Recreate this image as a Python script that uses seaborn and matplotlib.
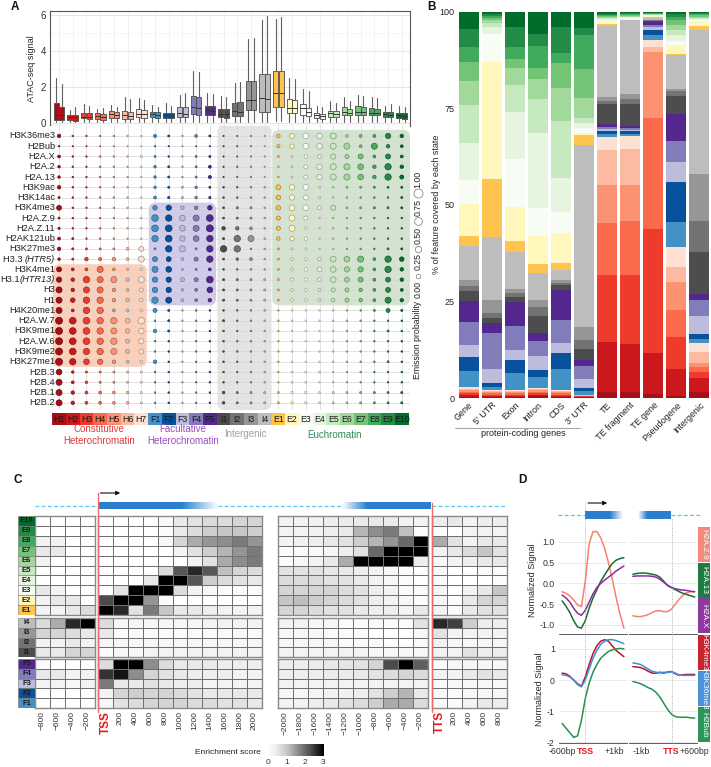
import numpy as np
import matplotlib
matplotlib.use("Agg")
import matplotlib.pyplot as plt
import seaborn as sns
from matplotlib.patches import FancyBboxPatch, Rectangle
from matplotlib.colors import to_rgb

sns.set_theme(style="white")
plt.rcParams["font.family"] = ["Liberation Sans", "DejaVu Sans"]
plt.rcParams["font.size"] = 7
plt.rcParams["axes.unicode_minus"] = False

# ---------------- data ----------------
states = ["H1", "H2", "H3", "H4", "H5", "H6", "H7", "F1", "F2", "F3", "F4", "F5",
          "I1", "I2", "I3", "I4", "E1", "E2", "E3", "E4", "E5", "E6", "E7", "E8", "E9", "E10"]
state_colors = ["#a50f15", "#cb181d", "#ef3b2c", "#fb6a4a", "#fc9272", "#fcbba1", "#fee0d2",
                "#4292c6", "#08519c", "#bcbddc", "#807dba", "#54278f",
                "#4d4d4d", "#737373", "#969696", "#bdbdbd",
                "#fec44f", "#fff7bc", "#f7fcf5", "#e5f5e0", "#c7e9c0", "#a1d99b", "#74c476",
                "#41ab5d", "#238b45", "#006d2c"]

# panel A boxplots (two replicates per state)
q1_a = [.17, .17, .26, .22, .28, .20, .31, .31, .28, .35, .50, .44, .31, .39, .72, .63, .90, .54, .44, .26, .35, .44, .44, .44, .35, .26]
med_a = [.44, .35, .35, .39, .48, .44, .50, .50, .44, .54, .90, .72, .50, .67, 1.28, 1.37, 1.65, .85, .81, .44, .54, .63, .63, .57, .50, .44]
q3_a = [1.13, .44, .57, .54, .67, .69, .76, .61, .57, .87, 1.50, .94, .76, 1.13, 2.31, 2.72, 2.89, 1.33, 1.06, .54, .69, .87, .94, .85, .63, .57]
hi_a = [2.48, .72, 1.04, .80, 1.00, 1.46, 1.37, 1.00, 1.13, 1.56, 2.89, 1.69, 1.50, 2.24, 4.67, 5.72, 5.76, 2.48, 1.87, .94, 1.22, 1.46, 1.56, 1.46, .94, .94]
q1_b = [.17, .13, .20, .17, .26, .20, .30, .30, .27, .35, .44, .42, .30, .40, .70, .60, .87, .54, .40, .24, .35, .43, .44, .42, .33, .24]
med_b = [.42, .31, .35, .33, .42, .40, .48, .46, .40, .52, .81, .67, .48, .63, 1.30, 1.31, 1.65, .83, .63, .40, .50, .58, .60, .55, .46, .41]
q3_b = [.90, .44, .54, .48, .60, .63, .72, .60, .54, .90, 1.43, .92, .76, 1.17, 2.35, 2.72, 2.89, 1.28, .85, .52, .67, .78, .87, .80, .60, .55]
hi_b = [2.17, .87, .94, .85, .91, 1.31, 1.28, .91, .94, 1.65, 2.85, 1.61, 1.46, 2.30, 4.74, 5.94, 5.87, 2.43, 1.80, .87, 1.09, 1.24, 1.50, 1.37, 1.06, .87]
lo_all = [.05, .04, .06, .05, .06, .05, .06, .06, .05, .06, .08, .07, .05, .06, .08, .07, .09, .07, .06, .05, .06, .06, .06, .06, .05, .05]

# row labels; (prefix, italic suffix)
marks = [("H3K36me3", ""), ("H2Bub", ""), ("H2A.X", ""), ("H2A.2", ""), ("H2A.13", ""), ("H3K9ac", ""),
         ("H3K14ac", ""), ("H3K4me3", ""), ("H2A.Z.9", ""), ("H2A.Z.11", ""), ("H2AK121ub", ""),
         ("H3K27me3", ""), ("H3.3 ", "(HTR5)"), ("H3K4me1", ""), ("H3.1", "(HTR13)"), ("H3", ""), ("H1", ""),
         ("H4K20me1", ""), ("H2A.W.7", ""), ("H3K9me1", ""), ("H2A.W.6", ""), ("H3K9me2", ""),
         ("H3K27me1", ""), ("H2B.3", ""), ("H2B.4", ""), ("H2B.1", ""), ("H2B.2", "")]
emission = [
    [.15, .03, .03, .03, .03, .03, .03, .12, .05, .03, .10, .05, .02, .02, .02, .02, .15, .30, .40, .40, .45, .10, .10, .10, .35, .15],
    [.03, .02, .02, .02, .02, .02, .02, .03, .02, .02, .02, .02, .02, .02, .02, .02, .12, .25, .40, .40, .45, .45, .10, .45, .15, .10],
    [.10, .03, .03, .03, .03, .03, .05, .05, .03, .03, .05, .05, .02, .02, .02, .02, .05, .05, .15, .20, .35, .20, .30, .10, .30, .10],
    [.08, .03, .03, .03, .03, .03, .03, .08, .05, .03, .05, .10, .02, .02, .02, .02, .03, .05, .20, .35, .45, .45, .40, .15, .50, .15],
    [.08, .03, .03, .03, .03, .03, .03, .08, .05, .03, .05, .12, .02, .02, .02, .02, .03, .05, .20, .35, .45, .45, .40, .15, .50, .20],
    [.15, .03, .03, .03, .03, .03, .03, .08, .05, .05, .08, .05, .03, .03, .03, .03, .30, .35, .40, .05, .03, .05, .05, .05, .05, .05],
    [.05, .03, .03, .03, .03, .03, .03, .10, .06, .05, .08, .06, .03, .03, .03, .03, .25, .35, .30, .05, .03, .03, .03, .03, .03, .05],
    [.30, .03, .03, .03, .03, .03, .03, .25, .35, .15, .15, .25, .04, .05, .05, .03, .25, .40, .40, .20, .30, .05, .05, .05, .05, .05],
    [.05, .03, .03, .03, .03, .03, .03, .55, .50, .40, .45, .55, .04, .05, .05, .03, .20, .45, .20, .03, .03, .03, .03, .03, .03, .03],
    [.06, .03, .03, .03, .03, .03, .03, .55, .55, .40, .45, .60, .15, .15, .10, .03, .20, .45, .10, .03, .03, .03, .03, .03, .03, .03],
    [.10, .05, .03, .03, .03, .03, .03, .50, .55, .35, .40, .50, .05, .50, .45, .03, .15, .25, .15, .03, .03, .03, .03, .03, .03, .03],
    [.15, .05, .05, .05, .05, .10, .30, .05, .50, .45, .05, .50, .50, .50, .03, .03, .05, .05, .05, .03, .03, .03, .03, .03, .05, .05],
    [.08, .05, .15, .12, .15, .10, .45, .30, .30, .10, .20, .50, .04, .08, .10, .03, .05, .10, .10, .15, .40, .40, .45, .10, .50, .25],
    [.30, .10, .10, .45, .10, .05, .10, .45, .40, .05, .05, .10, .03, .03, .03, .03, .05, .10, .15, .30, .40, .35, .35, .10, .50, .15],
    [.35, .15, .50, .45, .45, .15, .45, .35, .35, .20, .20, .55, .05, .05, .05, .05, .05, .15, .15, .20, .40, .30, .30, .10, .30, .15],
    [.45, .15, .45, .45, .15, .10, .20, .35, .35, .08, .10, .40, .05, .05, .05, .05, .05, .10, .10, .10, .20, .20, .15, .10, .30, .10],
    [.45, .25, .50, .50, .15, .15, .15, .50, .45, .10, .10, .15, .05, .05, .05, .05, .05, .10, .10, .10, .15, .20, .15, .10, .45, .15],
    [.45, .10, .50, .50, .10, .10, .10, .20, .05, .03, .03, .03, .03, .03, .03, .03, .03, .03, .03, .03, .03, .03, .03, .05, .20, .05],
    [.60, .55, .55, .50, .50, .30, .55, .03, .05, .03, .03, .03, .05, .03, .03, .03, .03, .03, .03, .03, .03, .03, .03, .03, .03, .03],
    [.60, .55, .55, .50, .45, .25, .40, .15, .05, .03, .03, .03, .03, .03, .03, .03, .03, .03, .03, .03, .03, .03, .03, .03, .05, .03],
    [.60, .55, .55, .50, .50, .20, .35, .03, .03, .03, .03, .03, .03, .03, .03, .03, .03, .03, .03, .03, .03, .03, .03, .03, .03, .03],
    [.60, .55, .50, .50, .45, .20, .30, .03, .03, .03, .03, .03, .03, .03, .03, .03, .03, .03, .03, .03, .03, .03, .03, .03, .03, .03],
    [.60, .50, .40, .35, .15, .10, .10, .15, .03, .03, .03, .03, .03, .03, .03, .03, .03, .03, .03, .03, .03, .03, .03, .03, .05, .03],
    [.40, .08, .05, .05, .05, .05, .05, .03, .03, .03, .03, .03, .03, .03, .03, .03, .03, .05, .05, .05, .03, .03, .03, .03, .03, .03],
    [.45, .10, .08, .05, .05, .05, .05, .03, .03, .03, .03, .03, .03, .03, .03, .03, .03, .05, .05, .03, .03, .03, .03, .03, .03, .03],
    [.45, .15, .10, .10, .10, .08, .05, .03, .03, .03, .03, .03, .08, .05, .05, .05, .05, .08, .08, .05, .05, .05, .05, .05, .05, .05],
    [.45, .15, .10, .10, .10, .10, .05, .03, .03, .03, .03, .03, .08, .05, .05, .05, .05, .08, .08, .05, .05, .05, .05, .05, .05, .05],
]
legend_probs = [0.00, 0.25, 0.50, 0.75, 1.00]

# panel B: % of feature covered by each state (H1..E10 bottom to top)
features = ["Gene", "5' UTR", "Exon", "Intron", "CDS", "3' UTR", "TE", "TE fragment", "TE gene", "Pseudogene", "Intergenic"]
b_gene = [.3, .5, .4, .4, .4, .4, .5, 4.3, 3.5, 3.2, 6.0, 5.5, 2.6, 1.3, 1.5, 9.0, 2.6, 8.3, 6.5, 9.5, 10.0, 6.2, 5.2, 3.9, 4.7, 4.4]
b_utr5 = [.3, .3, .3, .3, .3, .3, .2, 1.0, 1.0, 3.6, 9.7, 2.6, 1.3, 1.3, 3.6, 16.6, 15.5, 31.0, 7.5, 2.0, 1.0, .8, .5, .5, .5, .6]
b_exon = [.3, .3, .3, .3, .3, .3, .2, 4.5, 3.4, 2.6, 6.2, 6.3, 1.3, 1.0, 1.1, 9.5, 2.8, 8.8, 12.7, 12.0, 7.2, 4.4, 2.3, 3.1, 5.2, 3.9]
b_intron = [.4, .4, .4, .4, .4, .3, .3, 2.8, 1.8, 3.6, 4.1, 1.9, 4.5, 2.2, 1.9, 7.0, 2.4, 7.3, 7.2, 19.4, 8.8, 5.4, 2.8, 5.7, 3.1, 5.7]
b_cds = [.3, .3, .3, .3, .3, .3, .4, 5.3, 4.1, 2.6, 6.2, 7.6, 1.3, .6, .7, 2.8, 1.6, 7.8, 5.5, 9.0, 14.7, 8.5, 6.7, 2.6, 6.7, 3.9]
b_utr3 = [.2, .1, .1, .1, .1, .1, .2, .9, .9, 2.3, 3.3, 1.6, 2.8, 2.4, 3.5, 47.6, 2.6, .5, 1.3, 1.3, 1.3, 5.2, 7.8, 8.8, 1.9, 4.1]
b_te = [1.7, 13.2, 18.0, 14.0, 10.0, 9.3, 3.6, .8, .8, .5, .5, .8, 5.4, .9, 1.0, 19.0, .5, .4, .5, .3, .3, .3, .3, .3, .3, .5]
b_tefrag = [1.5, 12.8, 18.0, 14.2, 9.3, 9.6, 3.4, .6, .6, .4, .4, .6, 5.7, 1.3, 1.3, 19.4, .2, .2, .2, .2, .2, .2, .2, .2, .2, .4]
b_tegene = [1.1, 10.6, 32.6, 29.0, 17.3, 1.3, 2.0, 1.3, 1.3, .8, .5, .8, .3, .2, .1, .4, .3, .2, .2, .1, .1, .1, .1, .1, .1, .3]
b_pseudo = [.5, 7.0, 8.5, 7.0, 7.5, 3.9, 5.2, 6.5, 10.4, 5.4, 5.4, 7.0, 4.7, 1.3, .5, 9.0, .4, 2.3, 1.0, 1.6, 1.3, 1.3, 1.3, .8, .8, .5]
b_inter = [1.6, 3.6, 1.7, 1.3, .9, 3.0, 2.2, 1.0, 1.4, 4.6, 4.4, 1.5, 11.0, 8.0, 12.4, 37.5, 1.0, 1.3, .3, .3, .3, .3, .3, .3, .3, .3]

# panel C: enrichment scores, rows E10..E1, I4..I1, F5..F1
c_rows = ["E10", "E9", "E8", "E7", "E6", "E5", "E4", "E3", "E2", "E1", "I4", "I3", "I2", "I1", "F5", "F4", "F3", "F2", "F1"]
c_row_colors = ["#006d2c", "#238b45", "#41ab5d", "#74c476", "#a1d99b", "#c7e9c0", "#e5f5e0", "#f7fcf5", "#fff7bc", "#fec44f",
                "#bdbdbd", "#969696", "#737373", "#4d4d4d", "#54278f", "#807dba", "#bcbddc", "#08519c", "#4292c6"]
up_labels = ["\u2212800", "\u2212600", "\u2212400", "\u2212200"]
tss_labels = ["TSS", "200", "400", "600", "800", "1000", "1200", "1400", "1600", "1800", "2000"]
ttsup_labels = ["\u22122000", "\u22121800", "\u22121600", "\u22121400", "\u22121200", "\u22121000", "\u2212800", "\u2212600", "\u2212400", "\u2212200"]
ttsdn_labels = ["TTS", "200", "400", "600", "800"]
c_up = [[0, 0, 0, 0], [0, 0, 0, 0], [.3, .3, 0, 0], [.5, .5, 0, 0], [.3, 0, 0, 0], [0, 0, 0, 0], [0, 0, 0, 0],
        [.5, .3, 0, 0], [.3, .5, .5, 0], [.3, .3, .5, .7],
        [.7, 1.3, 2.6, 3.0], [.8, .8, .7, .5], [.3, .3, .5, .3], [.5, .5, .8, .8],
        [.1, 0, 0, 0], [.5, .5, .3, .3], [.3, .3, .2, .3], [0, 0, 0, 0], [0, 0, 0, 0]]
c_tss = [[0, 0, 0, 0, .15, .5, .6, .7, .7, .8, .8],
         [0, 0, 0, 0, .1, .5, .7, .9, 1.0, 1.0, .9],
         [0, 0, 0, 0, .2, .8, 1.3, 1.5, 1.6, 1.8, 1.5],
         [0, 0, 0, 0, 0, .3, .6, .9, 1.2, 1.5, 1.8],
         [0, 0, 0, 0, 0, 0, .3, .6, 1.3, 1.6, 1.8],
         [0, 0, 0, 0, .7, 2.2, 2.6, 2.2, 1.1, .8, .7],
         [0, 0, 0, .5, 3.0, 3.0, 2.2, .9, .7, .6, .5],
         [0, .6, 3.0, 3.0, 3.0, .7, .3, .2, .1, .1, .1],
         [2.3, 3.0, 3.0, 1.5, .1, 0, 0, 0, 0, 0, 0],
         [3.0, 2.6, .6, 1.8, 1.0, .5, .5, .4, .3, .3, .3],
         [.7, .2, .2, .2, .2, .2, .2, .3, .3, .3, .3],
         [.5, .1, .1, .1, .1, .1, .1, .1, .1, .1, .1],
         [.2, .2, .2, .2, .2, .2, .2, .2, .2, .2, .2],
         [.1, .2, .2, .3, .3, .3, .3, .3, .3, .3, .3],
         [.7, 3.0, 3.0, 1.6, .7, .5, .5, .5, .4, .4, .4],
         [2.5, 2.8, 1.6, .8, .6, .5, .4, .4, .4, .3, .3],
         [1.8, .5, .5, .6, .5, .4, .4, .3, .3, .3, .3],
         [.3, .8, .9, .8, .8, .7, .6, .5, .5, .5, .5],
         [.2, .6, .7, .8, .8, .8, .7, .7, .6, .6, .5]]
c_ttsup = [[.3, .3, .35, .4, .45, .5, .5, .45, .3, .3],
           [.3, .3, .35, .4, .5, 1.2, 1.6, 1.8, 1.1, .1],
           [.3, .35, .4, .5, .6, .9, 1.2, 1.5, 2.0, 3.0],
           [.1, .1, .15, .2, .4, .6, 2.0, 3.0, 3.0, 3.0],
           [.1, .2, .3, .5, 1.3, 3.0, 3.0, 3.0, 3.0, .4],
           [.6, .6, .6, .55, .5, .4, .3, .2, .1, 0],
           [.7, .7, .7, .6, .6, .5, .3, .2, .1, 0],
           [.8, .8, .8, .8, .7, .6, .4, .3, .1, .1],
           [1.0, 1.1, .9, .8, .7, .6, .4, .3, .2, .1],
           [.8, .8, .7, .6, .6, .5, .4, .4, .3, .5],
           [.3, .3, .2, .2, .1, .1, .1, .1, .1, .6],
           [.2, .2, .2, .1, .1, .1, 0, 0, 0, .2],
           [.2, .2, .2, .2, .1, .1, .1, 0, 0, .1],
           [.3, .3, .3, .3, .3, .3, .2, .2, .2, .2],
           [.4, .4, .45, .5, .55, .6, .8, 2.3, 3.0, 2.1],
           [.4, .4, .4, .45, .45, .5, .6, .7, .8, .7],
           [.3, .3, .3, .3, .3, .3, .3, .3, .3, .3],
           [.2, .2, .25, .3, .35, .4, .6, .9, 1.2, .5],
           [.3, .3, .4, .5, .6, .7, .9, 1.3, 1.3, .7]]
c_ttsdn = [[.4, .5, .3, .4, .4], [0, 0, .3, .3, .3], [1.3, .6, .3, .5, .5], [.3, .5, .7, 1.0, .6],
           [.1, .3, .4, .5, .5], [.1, 0, 0, .1, .1], [.1, 0, 0, 0, .1], [.2, 0, .3, .5, 1.0],
           [.2, .1, .5, .8, .8], [.3, .1, .5, .6, .6],
           [2.6, 2.4, .9, .4, .4], [.6, .3, .3, .3, .3], [.3, .2, .2, .2, .2], [.3, .3, .6, .4, .4],
           [0, .2, .2, .2, .2], [.3, .3, .5, .6, .5], [.1, .2, .2, .2, .2], [.1, .1, .2, .2, .2], [.1, .1, .3, .5, .4]]

# panel D: metaprofiles
d_tss_x = [-600, -500, -400, -300, -200, -100, 0, 100, 200, 300, 400, 500, 600, 700, 800, 900, 1000]
d_tts_x = [-1000, -900, -800, -700, -600, -500, -400, -300, -200, -100, 0, 100, 200, 300, 400, 500, 600]
top_marks = ["H2A.Z.9", "H2A.13", "H2A.X"]
top_colors = ["#f8806f", "#1b6b35", "#8b2aa0"]
top_strip = ["#f4897b", "#1f7a43", "#8e3a9d"]
top_tss = [[-.20, -.24, -.30, -.40, -.52, -.56, .05, .95, 1.25, 1.25, 1.10, .85, .50, .10, -.35, -.75, -1.08],
           [-.42, -.55, -.70, -.90, -1.05, -1.08, -.90, -.60, -.35, -.15, .05, .20, .35, .48, .56, .60, .62],
           [-.28, -.35, -.45, -.60, -.72, -.77, -.65, -.45, -.25, -.10, .00, .08, .15, .22, .30, .36, .42]]
top_tts = [[-.78, -.80, -.80, -.78, -.75, -.70, -.66, -.66, -.68, -.68, -.62, -.50, -.38, -.28, -.22, -.20, -.20],
           [.22, .24, .25, .25, .24, .22, .20, .15, .05, -.05, -.10, -.15, -.20, -.24, -.27, -.30, -.33],
           [.17, .18, .18, .18, .18, .17, .15, .10, .03, -.05, -.10, -.13, -.15, -.16, -.17, -.19, -.20]]
bot_marks = ["H3K4me3", "H3K36me3", "H2Bub"]
bot_colors = ["#c0141f", "#3d8fdc", "#249150"]
bot_strip = ["#c4262e", "#4a93d8", "#2c9558"]
bot_tss = [[.22, .20, .12, .00, -.12, -.20, .10, .50, .85, 1.10, 1.25, 1.30, 1.25, 1.10, .95, .85, .75],
           [.17, .15, .10, .00, -.15, -.22, .00, .35, .70, .95, 1.15, 1.25, 1.30, 1.30, 1.27, 1.22, 1.17],
           [-1.40, -1.55, -1.70, -1.85, -1.80, -1.30, -.60, -.10, .25, .50, .70, .82, .92, .97, 1.00, 1.02, 1.00]]
bot_tts = [[.43, .42, .40, .35, .28, .22, .22, .25, .22, .26, .27, .20, .15, .17, .18, .18, .18],
           [.55, .53, .50, .43, .35, .28, .25, .23, .25, .24, .27, .22, .16, .15, .15, .15, .15],
           [-.05, -.08, -.12, -.18, -.25, -.30, -.40, -.55, -.75, -.95, -1.10, -1.18, -1.20, -1.20, -1.20, -1.22, -1.23]]

# ---------------- figure ----------------
W, H = 711, 767
fig = plt.figure(figsize=(W / 100, H / 100), dpi=100)
fig.patch.set_facecolor("white")


def add_ax(x0, y0, x1, y1):
    return fig.add_axes([x0 / W, 1 - y1 / H, (x1 - x0) / W, (y1 - y0) / H])


def ftext(x, y, s, **kw):
    fig.text(x / W, 1 - y / H, s, **kw)


def darker(c, f=0.65):
    r, g, b = to_rgb(c)
    return (r * f, g * f, b * f)


# ---- A: boxplot ----
axb = add_ax(50, 11, 410, 126)
stats, pos, bcols = [], [], []
for j in range(26):
    for k, (a, m, b, h) in enumerate([(q1_a[j], med_a[j], q3_a[j], hi_a[j]), (q1_b[j], med_b[j], q3_b[j], hi_b[j])]):
        stats.append(dict(q1=a, med=m, q3=b, whislo=lo_all[j], whishi=h, fliers=[]))
        pos.append(j - 0.2 + 0.4 * k)
        bcols.append(state_colors[j])
bp = axb.bxp(stats, positions=pos, widths=0.38, patch_artist=True, showfliers=False, showcaps=False,
             boxprops=dict(edgecolor="#4a4a4a", linewidth=0.6),
             medianprops=dict(color="#333333", linewidth=0.7),
             whiskerprops=dict(color="#606060", linewidth=0.8))
for p, c in zip(bp["boxes"], bcols):
    p.set_facecolor(c)
for j in range(26):
    axb.axvline(j, color="#ededed", lw=0.5, zorder=0)
axb.set_xlim(-0.66, 25.6)
axb.set_ylim(-0.17, 6.22)
axb.set_xticks([])
axb.set_yticks([0, 2, 4, 6])
axb.set_yticks([1, 3, 5], minor=True)
axb.grid(True, which="major", axis="y", color="#e2e2e2", lw=0.6)
axb.grid(True, which="minor", axis="y", color="#f0f0f0", lw=0.4)
axb.set_axisbelow(True)
for s in axb.spines.values():
    s.set_color("#555555")
    s.set_linewidth(0.8)
axb.set_ylabel("ATAC-seq signal", fontsize=6.5, labelpad=3)
axb.tick_params(axis="y", labelsize=7, length=2, pad=1, colors="#333333")

# ---- A: dot plot ----
axd = add_ax(50, 126, 410, 410)
axd.set_xlim(-0.66, 25.6)
axd.set_ylim(26.7, -0.97)
asp = 10.27 / 13.72


def block(x0, x1, y0, y1, color):
    axd.add_patch(FancyBboxPatch((x0, y0), x1 - x0, y1 - y0,
                                 boxstyle="round,pad=0,rounding_size=0.5", mutation_aspect=1 / asp,
                                 facecolor=color, edgecolor="none", zorder=0))


block(-0.45, 6.4, 12.5, 22.5, "#fad0bb")
block(6.55, 11.45, 6.5, 16.5, "#cfcaea")
block(11.55, 15.5, -1.05, 26.7, "#e4e4e4")
block(15.55, 25.6, -0.6, 16.5, "#d3e3cf")
for i in range(27):
    axd.axhline(i, color="#d8d8d8", lw=0.5, zorder=1)
for j in range(26):
    axd.axvline(j, color="#d8d8d8", lw=0.5, zorder=1)
emis = np.array(emission)
xx, yy = np.meshgrid(np.arange(26), np.arange(27))
dcols = [state_colors[j] for j in xx.ravel()]
axd.scatter(xx.ravel(), yy.ravel(), s=emis.ravel() * 42, c=dcols,
            edgecolors=[darker(c) for c in dcols], linewidths=0.5, zorder=3)
axd.set_xticks([])
axd.set_yticks([])
for s in axd.spines.values():
    s.set_visible(False)
ytr = axd.get_yaxis_transform()
lab_x = (55 - 50) / 360
for i, (pre, ital) in enumerate(marks):
    if ital:
        t_it = axd.text(lab_x, i, ital, transform=ytr, ha="right", va="center",
                        fontsize=6.7, style="italic", color="#222222", zorder=5)
        axd.annotate(pre, xy=(0, 0.5), xycoords=t_it, ha="right", va="center",
                     fontsize=6.7, color="#222222", zorder=5)
    else:
        axd.text(lab_x, i, pre, transform=ytr, ha="right", va="center", fontsize=6.7, color="#222222", zorder=5)

# state colour bar
axs = add_ax(50, 413, 410, 425)
axs.bar(range(26), [1] * 26, width=1.0, color=state_colors, linewidth=0)
for j, st in enumerate(states):
    axs.text(j, 0.5, st, ha="center", va="center", fontsize=6.3, color="#1a1a1a")
axs.set_xlim(-0.66, 25.6)
axs.set_ylim(0, 1)
axs.axis("off")

ftext(99, 435, "Constitutive\nHeterochromatin", ha="center", va="center", fontsize=7, color="#e0383e", linespacing=1.15)
ftext(183, 435, "Facultative\nHeterochromatin", ha="center", va="center", fontsize=7, color="#9a4fbf", linespacing=1.15)
ftext(245, 434, "Intergenic", ha="center", va="center", fontsize=7, color="#a0a0a0")
ftext(335, 435, "Euchromatin", ha="center", va="center", fontsize=7, color="#2e8b57")

# ---- B: stacked bars ----
axB = add_ax(457, 10, 711, 398)
B = np.array([b_gene, b_utr5, b_exon, b_intron, b_cds, b_utr3, b_te, b_tefrag, b_tegene, b_pseudo, b_inter])
B = B / B.sum(axis=1, keepdims=True) * 100
bottom = np.zeros(len(features))
for si in range(26):
    axB.bar(range(len(features)), B[:, si], bottom=bottom, width=0.87, color=state_colors[si], linewidth=0)
    bottom += B[:, si]
axB.set_xlim(-0.5, 10.5)
axB.set_ylim(0, 100.5)
axB.set_yticks([0, 25, 50, 75, 100])
axB.set_xticks(range(len(features)))
axB.set_xticklabels(features, rotation=45, ha="right", rotation_mode="anchor", fontsize=6.5)
axB.tick_params(axis="both", length=0, pad=2, labelsize=6.5, colors="#222222")
for s in axB.spines.values():
    s.set_visible(False)
axB.set_ylabel("% of feature covered by each state", fontsize=6.5)
axB.yaxis.set_label_coords((441 - 457) / 254, 0.5)
ftext(523, 434, "protein-coding genes", ha="center", va="center", fontsize=6.5, color="#222222")

# ---- C: heatmaps ----
col_blocks = [(c_up, 35, 95, up_labels), (c_tss, 98, 262, tss_labels),
              (c_ttsup, 278, 428, ttsup_labels), (c_ttsdn, 432, 507, ttsdn_labels)]
row_blocks = [(0, 10, 516, 615), (10, 14, 618, 657), (14, 19, 659, 708)]
for data, x0, x1, labels in col_blocks:
    arr = np.array(data)
    for bi, (r0, r1, y0, y1) in enumerate(row_blocks):
        ax = add_ax(x0, y0, x1, y1)
        last = bi == len(row_blocks) - 1
        sns.heatmap(arr[r0:r1], ax=ax, cmap="Greys", vmin=0, vmax=3, cbar=False,
                    linewidths=0.5, linecolor="#707070",
                    xticklabels=labels if last else False, yticklabels=False)
        for s in ax.spines.values():
            s.set_visible(True)
            s.set_color("#8a8a8a")
            s.set_linewidth(1.0)
        if last:
            ax.tick_params(axis="x", rotation=90, labelsize=6, length=0, pad=2, colors="#333333")
            for t in ax.get_xticklabels():
                if t.get_text() in ("TSS", "TTS"):
                    t.set_color("#e31a1c")
                    t.set_fontweight("bold")
                    t.set_fontsize(8.5)

for r0, r1, y0, y1 in row_blocks:
    ax = add_ax(18, y0, 35, y1)
    for i in range(r0, r1):
        ax.add_patch(Rectangle((0, i - r0), 1, 1, facecolor=c_row_colors[i], edgecolor="#777777", lw=0.4))
        ax.text(0.5, i - r0 + 0.5, c_rows[i], ha="center", va="center", fontsize=5.5, fontweight="bold", color="#1a1a1a")
    ax.set_xlim(0, 1)
    ax.set_ylim(r1 - r0, 0)
    ax.axis("off")

cax = add_ax(268, 744, 323, 756)
cax.imshow(np.linspace(0, 3, 256)[None, :], cmap="Greys", vmin=0, vmax=3, aspect="auto", extent=[0, 3, 0, 1])
cax.set_yticks([])
cax.set_xticks([0, 1, 2, 3])
cax.tick_params(axis="x", length=0, labelsize=6, pad=2, colors="#333333")
for s in cax.spines.values():
    s.set_visible(False)
ftext(261, 752, "Enrichment score", ha="right", va="center", fontsize=6, color="#222222")

# ---- D: metaprofiles ----
tl = add_ax(559, 527, 627, 634)
tr = add_ax(629, 527, 697, 634)
bl = add_ax(559, 635, 627, 743)
br = add_ax(629, 635, 697, 743)
for k in range(3):
    sns.lineplot(x=d_tss_x, y=top_tss[k], ax=tl, color=top_colors[k], linewidth=1.1)
    sns.lineplot(x=d_tts_x, y=top_tts[k], ax=tr, color=top_colors[k], linewidth=1.1)
    sns.lineplot(x=d_tss_x, y=bot_tss[k], ax=bl, color=bot_colors[k], linewidth=1.1)
    sns.lineplot(x=d_tts_x, y=bot_tts[k], ax=br, color=bot_colors[k], linewidth=1.1)
for ax, top in [(tl, True), (tr, True), (bl, False), (br, False)]:
    left = ax in (tl, bl)
    ax.set_xlim((-680, 1080) if left else (-1100, 660))
    if top:
        ax.set_ylim(-1.22, 1.36)
        ax.set_yticks([-1.0, -0.5, 0.0, 0.5, 1.0])
    else:
        ax.set_ylim(-2.03, 1.45)
        ax.set_yticks([-2, -1, 0, 1])
    ax.set_xticks([-600, 0, 1000] if left else [-1000, 0, 600])
    ax.grid(True, axis="y", color="#e6e6e6", lw=0.6)
    ax.set_axisbelow(True)
    for nm, s in ax.spines.items():
        s.set_visible(nm == "bottom")
        s.set_color("#444444")
        s.set_linewidth(0.6)
    ax.tick_params(axis="both", labelsize=6.3, length=2, pad=1, colors="#333333", width=0.5)
    ax.set_xlabel("")
    if not left:
        ax.set_yticklabels([])
        ax.tick_params(axis="y", length=0)
    else:
        ax.set_ylabel("Normalized Signal", fontsize=6.5, labelpad=2)
    if top:
        ax.set_xticklabels([])
    else:
        ax.set_xticklabels(["-600bp", "TSS", "+1kb"] if left else ["-1kb", "TTS", "+600bp"])
        tl_ = ax.get_xticklabels()
        if left:
            tl_[2].set_horizontalalignment("right")
        else:
            tl_[0].set_horizontalalignment("left")
        for t in tl_:
            if t.get_text() in ("TSS", "TTS"):
                t.set_color("#e31a1c")
                t.set_fontweight("bold")

# ---- overlay (gene models, lines, strips, panel letters) ----
ov = fig.add_axes([0, 0, 1, 1], zorder=10)
ov.patch.set_alpha(0)
ov.axis("off")


def grad_bar(x0, x1, y0, y1, fade_from, fade_to):
    n = 200
    xs = np.linspace(x0, x1, n)
    alpha = np.clip((xs - fade_to) / (fade_from - fade_to), 0, 1)
    img = np.zeros((1, n, 4))
    img[..., :3] = to_rgb("#2a7fcd")
    img[0, :, 3] = alpha
    ov.imshow(img, extent=[x0, x1, y1, y0], aspect="auto", interpolation="bilinear", zorder=3)


dash = dict(color="#5bc3ee", lw=0.9, ls=(0, (3, 2)), zorder=2)
ov.plot([35, 97], [505.5, 505.5], **dash)
ov.plot([218, 342], [505.5, 505.5], **dash)
ov.plot([432, 507], [505.5, 505.5], **dash)
grad_bar(98, 218, 502, 509, 182, 218)
grad_bar(342, 431, 502, 509, 367, 342)
ov.plot([97.5, 97.5], [493, 712], color="#ee6b6b", lw=1.0, zorder=4)
ov.plot([431.5, 431.5], [503, 712], color="#ee6b6b", lw=1.0, zorder=4)
ov.annotate("", xy=(123, 493), xytext=(97.5, 493),
            arrowprops=dict(arrowstyle="-|>", color="#111111", lw=0.8, mutation_scale=6), zorder=4)

ov.plot([558, 585], [515, 515], **dash)
ov.plot([671, 700], [515, 515], **dash)
grad_bar(585, 623, 511.5, 519, 610, 623)
grad_bar(638, 671, 511.5, 519, 647, 638)
ov.plot([585.3, 585.3], [503, 743], color="#9a9a9a", lw=0.6, ls=":", zorder=4)
ov.plot([671.5, 671.5], [519, 743], color="#9a9a9a", lw=0.6, ls=":", zorder=4)
ov.annotate("", xy=(610, 503), xytext=(585.3, 503),
            arrowprops=dict(arrowstyle="-|>", color="#111111", lw=0.8, mutation_scale=6), zorder=4)

# facet strips
strip_h_top = (634 - 527) / 3
strip_h_bot = (743 - 635) / 3
for k in range(3):
    y0 = 527 + k * strip_h_top
    ov.add_patch(Rectangle((698, y0), 12, strip_h_top - 0.8, facecolor=top_strip[k], edgecolor="none", zorder=3))
    ov.text(704, y0 + strip_h_top / 2, top_marks[k], rotation=270, ha="center", va="center", fontsize=6, color="white", zorder=4)
    y0 = 635 + k * strip_h_bot
    ov.add_patch(Rectangle((698, y0), 12, strip_h_bot - 0.8, facecolor=bot_strip[k], edgecolor="none", zorder=3))
    ov.text(704, y0 + strip_h_bot / 2, bot_marks[k], rotation=270, ha="center", va="center", fontsize=6, color="white", zorder=4)

# protein-coding bracket line
ov.plot([455, 580], [428, 428], color="#a8a8a8", lw=0.8)

# emission probability size legend
ov.text(418, 340, "Emission probability", rotation=90, ha="center", va="center", fontsize=6.3, color="#222222")
leg_label_y = [289, 262, 235, 207, 179]
for p, ly in zip(legend_probs, leg_label_y):
    ov.text(418, ly, "%.2f" % p, rotation=90, ha="center", va="center", fontsize=6.3, color="#222222")
    if p > 0:
        ov.scatter([418], [ly + 14], s=p * 42, facecolor="white", edgecolor="#8a8a8a", linewidth=0.6, zorder=4)

for letter, (x, y) in zip("ABCD", [(15, 7), (432, 7), (18, 480), (522, 480)]):
    ov.text(x, y, letter, ha="center", va="center", fontsize=8.5, fontweight="bold", color="#111111")

ov.set_xlim(0, W)
ov.set_ylim(H, 0)

fig.savefig("out.png", dpi=100)
